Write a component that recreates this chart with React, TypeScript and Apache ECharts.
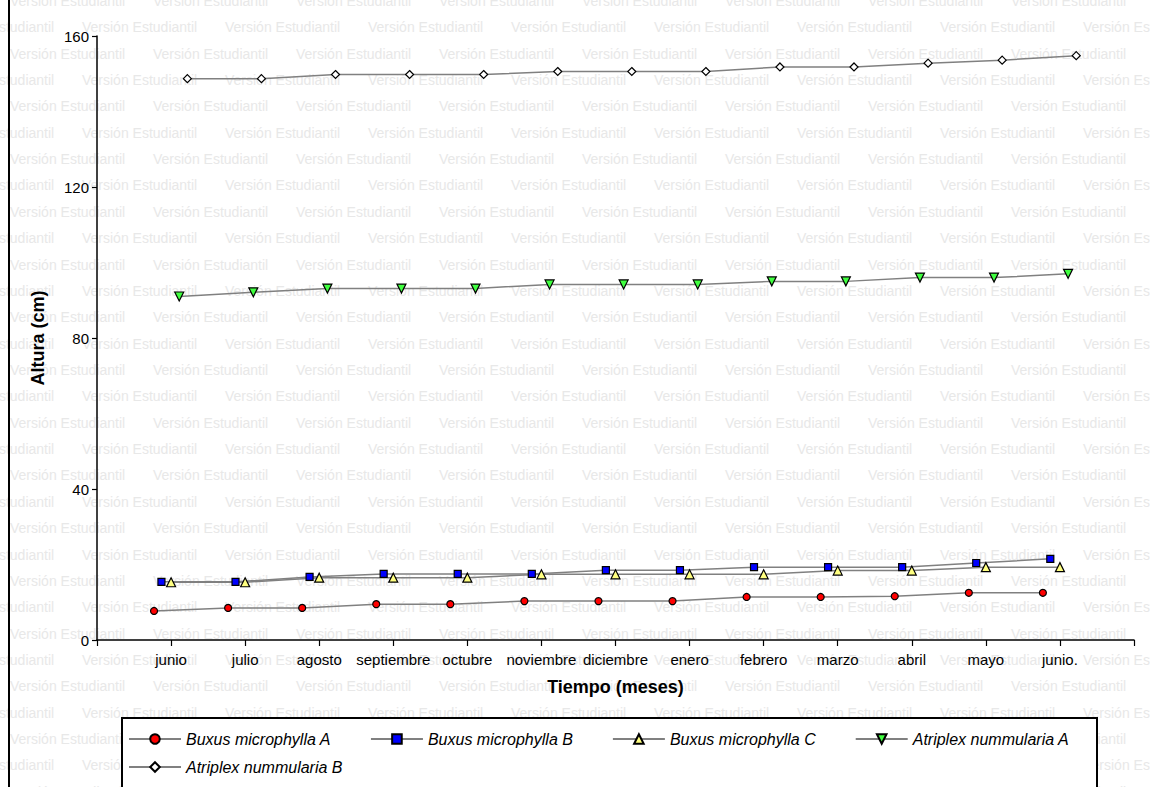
import React, { useEffect, useRef } from 'react';
import * as echarts from 'echarts';

const categories = ['junio', 'julio', 'agosto', 'septiembre', 'octubre', 'noviembre', 'diciembre', 'enero', 'febrero', 'marzo', 'abril', 'mayo', 'junio.'];
const seriesNames = ['Buxus microphylla A', 'Buxus microphylla B', 'Buxus microphylla C', 'Atriplex nummularia A', 'Atriplex nummularia B'];
const buxusA = [7.7, 8.5, 8.5, 9.5, 9.5, 10.3, 10.3, 10.3, 11.4, 11.4, 11.6, 12.5, 12.5];
const buxusB = [15.4, 15.4, 16.7, 17.5, 17.5, 17.5, 18.5, 18.5, 19.3, 19.3, 19.3, 20.4, 21.5];
const buxusC = [15.3, 15.3, 16.5, 16.5, 16.5, 17.4, 17.4, 17.4, 17.4, 18.4, 18.4, 19.3, 19.3];
const atriplexA = [91.0, 92.1, 93.1, 93.1, 93.1, 94.2, 94.2, 94.2, 95.0, 95.0, 96.0, 96.0, 97.0];
const atriplexB = [148.7, 148.7, 149.8, 149.8, 149.8, 150.6, 150.6, 150.6, 151.8, 151.8, 152.8, 153.6, 154.8];

const FONT = '"Liberation Sans", Arial, sans-serif';

export default function App() {
  const ref = useRef<HTMLDivElement>(null);
  useEffect(() => {
    if (!ref.current) return;
    const chart = echarts.init(ref.current, null, { renderer: 'svg' });

    const offsets = [-0.23, -0.13, 0, 0.11, 0.22];
    const allValues = [buxusA, buxusB, buxusC, atriplexA, atriplexB];
    const styles = [
      { symbol: 'circle', size: 7, color: '#ff0000', rotate: 0 },
      { symbol: 'rect', size: 7, color: '#0000ff', rotate: 0 },
      { symbol: 'triangle', size: 9, color: '#ffff80', rotate: 0 },
      { symbol: 'triangle', size: 9, color: '#40ff40', rotate: 180 },
      { symbol: 'diamond', size: 8, color: '#ffffff', rotate: 0 },
    ];

    const series = allValues.map((vals, s) => ({
      name: seriesNames[s],
      type: 'line',
      data: vals.map((v, i) => [i + 1 + offsets[s], v]),
      symbol: styles[s].symbol,
      symbolSize: styles[s].size,
      symbolRotate: styles[s].rotate,
      showAllSymbol: true,
      lineStyle: { color: '#808080', width: 1.5 },
      itemStyle: { color: styles[s].color, borderColor: '#000', borderWidth: 1.2 },
      emphasis: { disabled: true },
      z: 3,
    }));

    // watermark
    const wm: any[] = [];
    const dy = 26.36;
    for (let k = -1; 27.3 + k * dy < 800; k++) {
      const y = 27.3 + k * dy;
      const start = (k + 2) % 2 === 0 ? -61 : 10;
      for (let x = start; x < 1150; x += 143) {
        wm.push({
          type: 'text',
          x,
          y,
          silent: true,
          z: 0,
          style: { text: 'Versión Estudiantil', fill: '#e8e8e8', font: `14px ${FONT}`, verticalAlign: 'middle' },
        });
      }
    }

    const legendText = { fontStyle: 'italic', fontSize: 16, fontFamily: FONT, color: '#000' };

    chart.setOption({
      animation: false,
      backgroundColor: '#fff',
      grid: { left: 97, right: 16, top: 36, bottom: 147, containLabel: false },
      xAxis: {
        type: 'value',
        min: 0,
        max: 14,
        interval: 1,
        name: 'Tiempo (meses)',
        nameLocation: 'middle',
        nameGap: 38,
        nameTextStyle: { fontFamily: FONT, fontSize: 18, fontWeight: 'bold', color: '#000' },
        axisLine: { onZero: false, lineStyle: { color: '#000', width: 1.5 } },
        axisTick: { show: true, length: 6, lineStyle: { color: '#000', width: 1.2 } },
        axisLabel: {
          margin: 12,
          fontFamily: FONT,
          fontSize: 15,
          color: '#000',
          formatter: (v: number) => categories[v - 1] ?? '',
        },
        splitLine: { show: false },
      },
      yAxis: {
        type: 'value',
        min: 0,
        max: 160,
        interval: 40,
        name: 'Altura (cm)',
        nameLocation: 'middle',
        nameGap: 50,
        nameTextStyle: { fontFamily: FONT, fontSize: 18, fontWeight: 'bold', color: '#000' },
        axisLine: { show: true, lineStyle: { color: '#000', width: 1.5 } },
        axisTick: { show: true, length: 5, lineStyle: { color: '#000', width: 1.2 } },
        axisLabel: { margin: 8, fontFamily: FONT, fontSize: 15, color: '#000' },
        splitLine: { show: false },
      },
      legend: [
        {
          data: seriesNames.slice(0, 4),
          left: 128,
          top: 731,
          padding: 0,
          itemWidth: 52,
          itemHeight: 12,
          itemGap: 39,
          textStyle: legendText,
          selectedMode: false,
        },
        {
          data: seriesNames.slice(4),
          left: 128,
          top: 759,
          padding: 0,
          itemWidth: 52,
          itemHeight: 12,
          itemGap: 39,
          textStyle: legendText,
          selectedMode: false,
        },
      ],
      graphic: [
        ...wm,
        {
          type: 'line',
          silent: true,
          z: 5,
          shape: { x1: 9, y1: 0, x2: 9, y2: 787 },
          style: { stroke: '#000', lineWidth: 2 },
        },
        {
          type: 'rect',
          silent: true,
          z: 1,
          shape: { x: 122, y: 718, width: 975, height: 90 },
          style: { fill: '#fff', stroke: '#000', lineWidth: 2 },
        },
      ],
      series,
    });
    return () => chart.dispose();
  }, []);
  return <div ref={ref} style={{ position: 'fixed', left: 0, top: 0, width: 1150, height: 787 }} />;
}
